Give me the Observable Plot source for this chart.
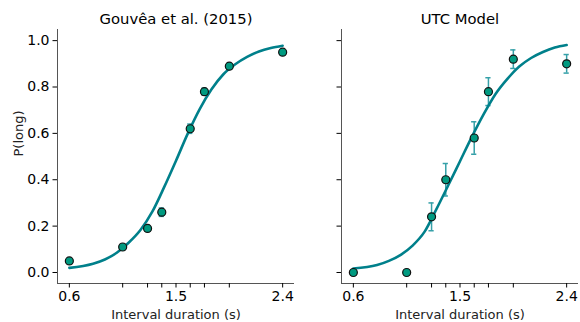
<!DOCTYPE html>
<html><head><meta charset="utf-8">
<script src="https://cdn.jsdelivr.net/npm/d3@7"></script>
<script src="https://cdn.jsdelivr.net/npm/@observablehq/plot@0.6"></script>
<style>
body{margin:0;background:#fff;}
#wrap{display:flex;width:580px;height:322px;}
#wrap svg{font-family:"DejaVu Sans",sans-serif;display:block;}
</style></head><body><div id="wrap"></div>
<script>
const durations = [0.6, 1.05, 1.26, 1.38, 1.62, 1.74, 1.95, 2.4];
const xTickValues = [0.6, 1.05, 1.26, 1.38, 1.5, 1.62, 1.74, 1.95, 2.4];
const xTickLabels = {"0.6": "0.6", "1.5": "1.5", "2.4": "2.4"};
const yTickValues = [0, 0.2, 0.4, 0.6, 0.8, 1.0];
const titles = ["Gouvêa et al. (2015)", "UTC Model"];
const gouveaP = [0.05, 0.11, 0.19, 0.26, 0.62, 0.78, 0.89, 0.95];
const gouveaErr = [0.01, 0.01, 0.012, 0.018, 0.02, 0.015, 0.012, 0.01];
const utcP = [0.0, 0.0, 0.24, 0.40, 0.58, 0.78, 0.92, 0.90];
const utcErr = [0, 0, 0.06, 0.07, 0.07, 0.06, 0.04, 0.04];
const fitX = [0.6, 0.8, 0.9, 1.0, 1.1, 1.2, 1.3, 1.4, 1.5, 1.6, 1.7, 1.8, 1.9, 2.0, 2.1, 2.2, 2.3, 2.4];
const gouveaFit = [0.02, 0.038, 0.056, 0.085, 0.128, 0.183, 0.262, 0.368, 0.482, 0.60, 0.705, 0.79, 0.855, 0.898, 0.93, 0.953, 0.968, 0.978];
const utcFit = [0.017, 0.032, 0.05, 0.076, 0.116, 0.175, 0.272, 0.375, 0.48, 0.585, 0.683, 0.77, 0.835, 0.888, 0.925, 0.951, 0.97, 0.981];

const lineColor = "#00808b";
const dotColor = "#009a80";
const errColor = "#35a0a8";
const xDomain = [0.5, 2.5];
const yDomain = [-0.0475, 1.048];

function panel({title, p, err, fit, width, marginLeft, marginRight, showYLabels}) {
  const pts = durations.map((x, i) => ({x, p: p[i], e: err[i]}));
  const errPts = pts.filter(d => d.e > 0);
  const curve = fitX.map((x, i) => ({x, y: fit[i]}));
  const marks = [
    Plot.ruleX([xDomain[0]], {stroke: "#555", strokeWidth: 1}),
    Plot.ruleY([yDomain[0]], {stroke: "#555", strokeWidth: 1}),
    Plot.axisY(yTickValues, {tickSize: 4.5, tickPadding: 3.5, label: null, fontSize: 14,
      tickFormat: showYLabels ? d3.format(".1f") : () => ""}),
    Plot.axisX(xTickValues, {tickSize: 4.5, tickPadding: 3, label: null, fontSize: 14,
      tickFormat: d => xTickLabels[String(d)] ?? ""}),
    Plot.ruleX(errPts, {x: "x", y1: d => d.p - d.e, y2: d => d.p + d.e, stroke: errColor, strokeWidth: 1.5}),
    Plot.ruleY(errPts, {y: d => d.p - d.e, x1: d => d.x - 0.022, x2: d => d.x + 0.022, stroke: errColor, strokeWidth: 1.5}),
    Plot.ruleY(errPts, {y: d => d.p + d.e, x1: d => d.x - 0.022, x2: d => d.x + 0.022, stroke: errColor, strokeWidth: 1.5}),
    Plot.line(curve, {x: "x", y: "y", stroke: lineColor, strokeWidth: 2.6, curve: "monotone-x"}),
    Plot.dot(pts, {x: "x", y: "p", r: 4, fill: dotColor, stroke: "#111", strokeWidth: 1.2}),
    Plot.text([title], {frameAnchor: "top", dy: -10, fontSize: 14.8, fill: "#000", lineAnchor: "middle"}),
    Plot.text(["Interval duration (s)"], {frameAnchor: "bottom", dy: 31, fontSize: 13, fill: "#222", lineAnchor: "middle"})
  ];
  if (showYLabels) {
    marks.push(Plot.text(["P(long)"], {frameAnchor: "left", dx: -39, rotate: -90, fontSize: 13, fill: "#222", lineAnchor: "middle"}));
  }
  return Plot.plot({
    width, height: 322,
    marginLeft, marginRight, marginTop: 29, marginBottom: 39,
    style: {fontFamily: "DejaVu Sans, sans-serif", color: "#000", background: "#fff", overflow: "visible"},
    x: {domain: xDomain},
    y: {domain: yDomain},
    marks
  });
}

const wrap = document.getElementById("wrap");
wrap.appendChild(panel({title: titles[0], p: gouveaP, err: gouveaErr, fit: gouveaFit, width: 295, marginLeft: 57, marginRight: 1, showYLabels: true}));
wrap.appendChild(panel({title: titles[1], p: utcP, err: utcErr, fit: utcFit, width: 285, marginLeft: 46, marginRight: 2, showYLabels: false}));
</script></body></html>
